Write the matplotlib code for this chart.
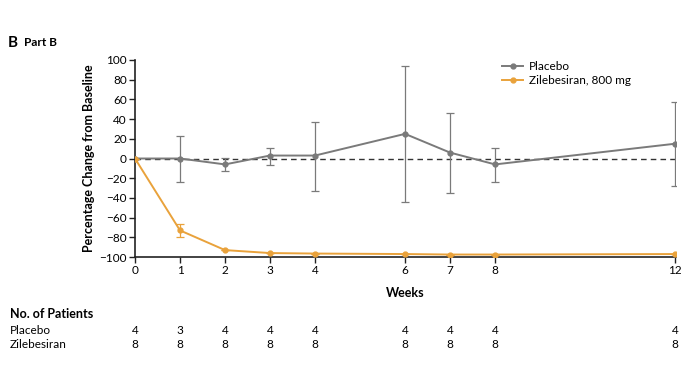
import matplotlib
matplotlib.use("Agg")
import matplotlib.pyplot as plt
from matplotlib.lines import Line2D
import matplotlib.transforms as mtransforms
import numpy as np

plt.rcParams['font.family'] = ['Lato', 'DejaVu Sans']

weeks = [0, 1, 2, 3, 4, 6, 7, 8, 12]
placebo = [0, 0, -6, 3, 3, 25, 6, -6, 15]
placebo_hi = [0, 23, 1, 11, 37, 94, 46, 11, 57]
placebo_lo = [0, -24, -13, -7, -33, -44, -35, -24, -28]
zile = [0, -73, -93, -96, -96.5, -97, -97.5, -97.5, -97]
zile_hi = [0, -67, -93, -96, -96.5, -97, -97.5, -97.5, -97]
zile_lo = [0, -80, -93, -96, -96.5, -97, -97.5, -97.5, -97]
n_placebo = [4, 3, 4, 4, 4, 4, 4, 4, 4]
n_zile = [8, 8, 8, 8, 8, 8, 8, 8, 8]
yticks = list(range(-100, 101, 20))

gray = '#7a7a7a'
orange = '#e9a23b'

fig = plt.figure(figsize=(6.9, 3.88), dpi=100)
ax = fig.add_axes([135/690, 1-257/388, (676-135)/690, (257-60)/388])

ax.axhline(0, color='#333333', lw=1.0, ls=(0, (4, 3)), zorder=1)

p = np.array(placebo, float)
ax.errorbar(weeks, placebo, yerr=[p - np.array(placebo_lo), np.array(placebo_hi) - p],
            color=gray, ecolor=gray, elinewidth=0.9, capsize=3, capthick=0.9,
            lw=1.4, marker='o', ms=3.5, zorder=3)
z = np.array(zile, float)
ax.errorbar(weeks, zile, yerr=[z - np.array(zile_lo), np.array(zile_hi) - z],
            color=orange, ecolor=orange, elinewidth=0.9, capsize=3, capthick=0.9,
            lw=1.4, marker='o', ms=3.5, zorder=4)

ax.set_xlim(0, 12.02)
ax.set_ylim(-100, 100)
ax.set_xticks(weeks)
ax.set_xticklabels([str(w) for w in weeks])
ax.set_yticks(yticks)
ax.set_yticklabels([str(t).replace('-', '\u2212') for t in yticks])
for s in ['top', 'right']:
    ax.spines[s].set_visible(False)
for s in ['left', 'bottom']:
    ax.spines[s].set_linewidth(1.2)
    ax.spines[s].set_color('#222222')
ax.tick_params(axis='both', labelsize=8.5, length=4, width=1, color='#222222', pad=2)
ax.set_xlabel('Weeks', fontsize=9, fontweight='bold', labelpad=8)
ax.set_ylabel('Percentage Change from Baseline', fontsize=9, fontweight='bold', labelpad=3)

handles = [Line2D([], [], color=gray, lw=1.4, marker='o', ms=3.5),
           Line2D([], [], color=orange, lw=1.4, marker='o', ms=3.5)]
ax.legend(handles, ['Placebo', 'Zilebesiran, 800 mg'], loc='upper left',
          bbox_to_anchor=(0.67, 1.02), frameon=False, fontsize=8.5,
          handlelength=1.8, handletextpad=0.5, borderaxespad=0, labelspacing=0.3)

fig.text(8/690, 1-43/388, 'B', fontsize=11, fontweight='bold', va='center', ha='left')
fig.text(24/690, 1-43/388, 'Part B', fontsize=8.5, fontweight='bold', va='center', ha='left')

fig.text(10/690, 1-314/388, 'No. of Patients', fontsize=9, fontweight='bold', va='center', ha='left')
fig.text(10/690, 1-330/388, 'Placebo', fontsize=8.5, va='center', ha='left')
fig.text(10/690, 1-345/388, 'Zilebesiran', fontsize=8.5, va='center', ha='left')
tr = mtransforms.blended_transform_factory(ax.transData, fig.transFigure)
for w, a, b in zip(weeks, n_placebo, n_zile):
    fig.text(w, 1-330/388, str(a), fontsize=8.5, va='center', ha='center', transform=tr)
    fig.text(w, 1-345/388, str(b), fontsize=8.5, va='center', ha='center', transform=tr)

fig.savefig('out.png', dpi=100)
